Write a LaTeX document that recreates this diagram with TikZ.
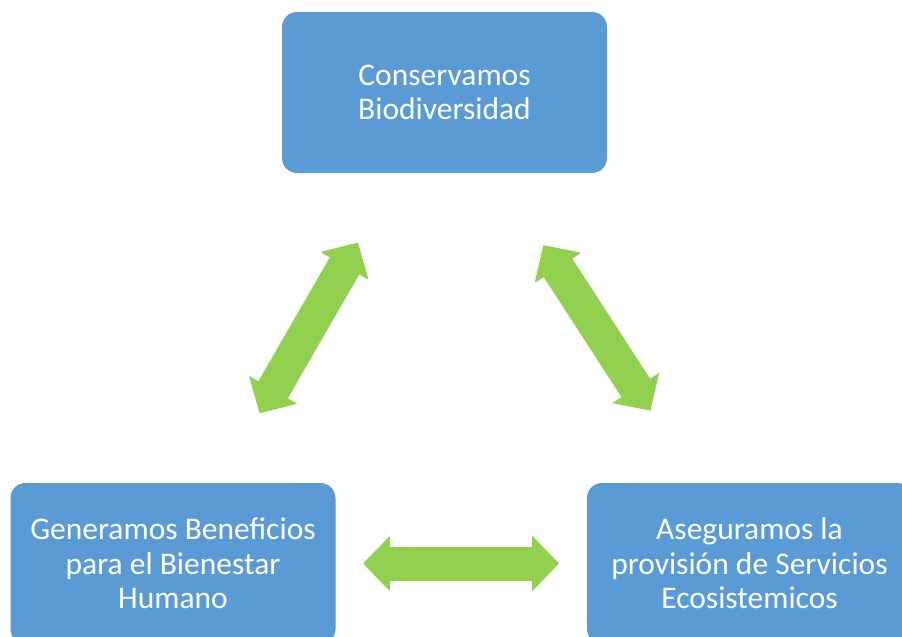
\documentclass[tikz,border=0pt]{standalone}
\usepackage{fontspec}
\setmainfont{Carlito}
\usepackage{tikz}
\usetikzlibrary{arrows.meta, positioning}
\definecolor{boxblue}{HTML}{5B9BD5}
\definecolor{arrowgreen}{HTML}{92D050}

\begin{document}
\begin{tikzpicture}[x=1pt, y=-1pt,
        box/.style={fill=boxblue, rounded corners=15pt, minimum width=325pt, minimum height=161pt, align=center, text=white, font=\fontsize{31.5}{34.5}\selectfont, inner sep=0pt},
        dblarrow/.style={draw=arrowgreen, line width=34pt, {Triangle[length=27pt, width=55.5pt, line width=1.5pt, round=false, fill=arrowgreen]}-{Triangle[length=27pt, width=55.5pt, line width=1.5pt, fill=arrowgreen]}}]
        \useasboundingbox (0,0) rectangle (902,637);
        \node[box] (cons) at (444.5,92.5) {Conservamos\\Biodiversidad};
        \node[box] (gen) at (173,563.5) {Generamos Beneficios\\para el Bienestar\\Humano};
        \node[box] (aseg) at (749.5,563.5) {Aseguramos la\\provisión de Servicios\\Ecosistemicos};

        \draw[dblarrow, shorten <=173.5pt, shorten >=173.5pt] (cons.center) -- (gen.center);
        \draw[dblarrow, shorten <=182.2pt, shorten >=182.2pt] (cons.center) -- (aseg.center);
        \draw[dblarrow, shorten <=190.4pt, shorten >=190.4pt] (gen.center) -- (aseg.center);
    \end{tikzpicture}
\end{document}
